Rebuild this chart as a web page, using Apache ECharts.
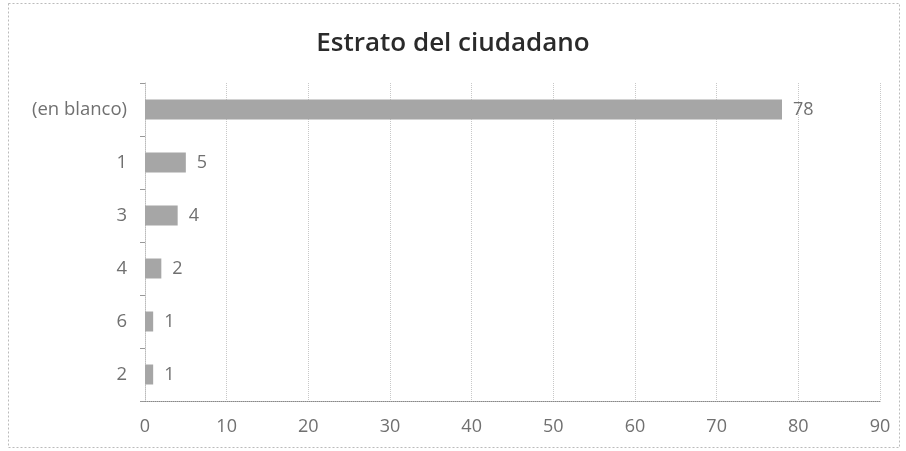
<!DOCTYPE html>
<html><head><meta charset="utf-8">
<script src="https://cdn.jsdelivr.net/npm/echarts@6/dist/echarts.min.js"></script>
<style>html,body{margin:0;padding:0;background:#fff}#c{width:906px;height:451px}</style>
</head><body><div id="c"></div>
<script>
const categories = ["(en blanco)", "1", "3", "4", "6", "2"];
const values = [78, 5, 4, 2, 1, 1];
const titleText = "Estrato del ciudadano";

const chart = echarts.init(document.getElementById('c'), null, {renderer: 'canvas'});
chart.setOption({
  animation: false,
  backgroundColor: '#fff',
  title: {
    text: titleText, left: 'center', top: 26,
    textStyle: {fontFamily: 'Open Sans', fontSize: 26, fontWeight: 600, color: '#2a2a2a'}
  },
  graphic: [{
    type: 'rect', shape: {x: 8.5, y: 3.5, width: 891, height: 444},
    style: {fill: 'none', stroke: '#bbb', lineWidth: 1, lineDash: [2, 2]}, silent: true
  }],
  grid: {left: 145, right: 26, top: 83, bottom: 50, containLabel: false},
  xAxis: {
    type: 'value', min: 0, max: 90, interval: 10,
    axisLine: {show: true, lineStyle: {color: '#888', type: 'dotted'}},
    axisTick: {show: false},
    splitLine: {show: true, lineStyle: {color: '#c8c8c8', type: 'dotted'}},
    axisLabel: {color: '#707070', fontFamily: 'Open Sans', fontSize: 18, margin: 17}
  },
  yAxis: {
    type: 'category', data: categories, inverse: true,
    axisLine: {show: true, lineStyle: {color: '#bbb', type: 'dotted'}},
    axisTick: {show: true, length: 5, lineStyle: {color: '#999'}},
    axisLabel: {color: '#707070', fontFamily: 'Open Sans', fontSize: 18.5, margin: 18}
  },
  series: [{
    type: 'bar', data: values, barWidth: 20,
    itemStyle: {color: '#a6a6a6'},
    label: {show: true, position: 'right', distance: 11, color: '#707070', fontFamily: 'Open Sans', fontSize: 18}
  }]
});
</script></body></html>
